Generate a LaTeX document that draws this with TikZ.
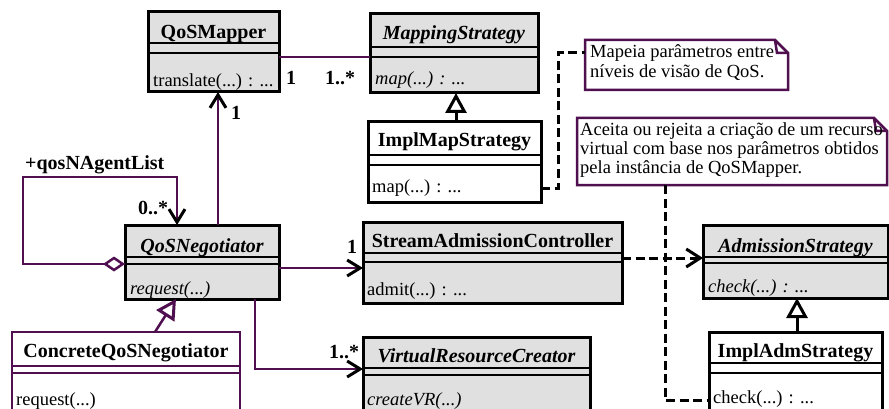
\documentclass[tikz,border=0pt]{standalone}
\usepackage{fontspec}
\setmainfont{Liberation Serif}
\usetikzlibrary{arrows.meta,calc}
\definecolor{pur}{RGB}{80,16,80}
\definecolor{clsgray}{RGB}{224,224,224}
\newcommand\umlbox[9]{%
  \node[#2, minimum width={#5-#3}, minimum height={#6-#4}] (#1) at (#3,#4) {};
  \draw[line width=2.5pt,#9] (#3,#7) -- (#5,#7) (#3,#8) -- (#5,#8);
}
\begin{document}
\begin{tikzpicture}[x=1pt,y=-1pt,
  box/.style={draw=black,line width=3pt,inner sep=0pt,outer sep=0pt,anchor=north west},
  gbox/.style={box,fill=clsgray},
  wbox/.style={box,fill=white},
  pbox/.style={box,draw=pur,line width=2.5pt,fill=white},
  ttl/.style={font=\fontsize{20}{22}\selectfont\bfseries,inner sep=0pt,anchor=base},
  ittl/.style={ttl,font=\fontsize{20}{22}\selectfont\bfseries\itshape},
  mth/.style={font=\fontsize{18.5}{20}\selectfont,inner sep=0pt,anchor=base west},
  imth/.style={mth,font=\fontsize{18.5}{20}\selectfont\itshape},
  lbl/.style={font=\fontsize{20}{22}\selectfont\bfseries,inner sep=0pt,anchor=base west},
  ntxt/.style={font=\fontsize{18.5}{20}\selectfont,inner sep=0pt,anchor=base west},
  assoc/.style={draw=pur,line width=2.5pt},
  opn/.style={-{Straight Barb[length=13pt,width=16pt,line width=3pt,color=black]}},
  inh/.style={-{Triangle[length=20pt,width=21pt,line width=3pt,fill=white]}},
  dsh/.style={draw=black,line width=3pt,dash pattern=on 9pt off 4.5pt},
  notebox/.style={draw=none,inner sep=0pt,outer sep=0pt,anchor=north west},
  noteline/.style={draw=pur,line width=2.5pt,fill=white,line join=miter}
]
\path[use as bounding box] (0,0) rectangle (889,409);
\clip (0,0) rectangle (889,409);

% ---- notes ----
\node[notebox,minimum width=203,minimum height=50] (n1) at (585,40) {};
\draw[noteline] (n1.north west) -- ($(n1.north east)+(-13,0)$) -- ($(n1.north east)+(0,13)$) -- (n1.south east) -- (n1.south west) -- cycle;
\draw[noteline,fill=none] ($(n1.north east)+(-13,0)$) -- ($(n1.north east)+(-11,13)$) -- ($(n1.north east)+(0,13)$);
\node[ntxt] (n1a) at (590,58) {Mapeia parâmetros entre};
\node[ntxt] (n1b) at (590,78) {níveis de visão de QoS.};

\node[notebox,minimum width=310,minimum height=67] (n2) at (577,118) {};
\draw[noteline] (n2.north west) -- ($(n2.north east)+(-13,0)$) -- ($(n2.north east)+(0,13)$) -- (n2.south east) -- (n2.south west) -- cycle;
\draw[noteline,fill=none] ($(n2.north east)+(-13,0)$) -- ($(n2.north east)+(-11,13)$) -- ($(n2.north east)+(0,13)$);
\node[ntxt] (n2a) at (580,136) {Aceita ou rejeita a criação de um recurso};
\node[ntxt] (n2b) at (580,155) {virtual com base nos parâmetros obtidos};
\node[ntxt] (n2c) at (580,173) {pela instância de QoSMapper.};

% ---- classes ----
\umlbox{qm}{gbox}{148}{12}{279}{92}{43}{53}{black}
\node[ttl] (qmt) at (213.5,39) {QoSMapper};
\node[mth] (qmm) at (153,87) {translate(...) : ...};

\umlbox{ms}{gbox}{370}{14}{538}{93}{47}{57}{black}
\node[ittl] (mst) at (454,40) {MappingStrategy};
\node[imth] (msm) at (375,85) {map(...) : ...};

\umlbox{ims}{wbox}{368}{122}{541}{202}{155}{165}{black}
\node[ttl] (imst) at (454.5,147) {ImplMapStrategy};
\node[mth] (imsm) at (372,193) {map(...) : ...};

\umlbox{qn}{gbox}{125}{225}{279}{299}{257}{264}{black}
\node[ittl] (qnt) at (202,252) {QoSNegotiator};
\node[imth] (qnm) at (130,294) {request(...)};

\umlbox{sac}{gbox}{363}{222}{622}{303}{253}{262}{black}
\node[ttl] (sact) at (492.5,247) {StreamAdmissionController};
\node[mth] (sacm) at (367,295) {admit(...) : ...};

\umlbox{adm}{gbox}{703}{225}{888}{298}{257}{263}{black}
\node[ittl] (admt) at (795.5,252) {AdmissionStrategy};
\node[imth] (admm) at (708,292) {check(...) : ...};

\umlbox{ias}{wbox}{709}{332}{882}{420}{363}{373}{black}
\node[ttl] (iast) at (795.5,357) {ImplAdmStrategy};
\node[mth] (iasm) at (713,403) {check(...) : ...};

\umlbox{cqn}{pbox}{12}{332}{240}{420}{366}{373}{pur}
\node[ttl] (cqnt) at (126,357) {ConcreteQoSNegotiator};
\node[mth] (cqnm) at (16,405) {request(...)};

\umlbox{vrc}{gbox}{363}{337}{590}{420}{368}{375}{black}
\node[ittl] (vrct) at (476.5,362) {VirtualResourceCreator};
\node[imth] (vrcm) at (367,405) {createVR(...)};

% ---- helper coordinates ----
\coordinate (y57) at (0,57);
\coordinate (x218) at (218,0);
\coordinate (y264) at (0,264);
\coordinate (L1) at (23,177);
\coordinate (x177) at (177,0);
\coordinate (y268) at (0,268);
\coordinate (x255) at (255,0);
\coordinate (y369) at (0,369);
\coordinate (x155) at (155,0);
\coordinate (x176) at (176,0);
\coordinate (x456) at (456,0);
\coordinate (x797) at (797,0);
\coordinate (y258) at (0,258);
\coordinate (y188) at (0,188);
\coordinate (D1) at (558,53);
\coordinate (x665) at (665,0);
\coordinate (y400) at (0,400);

% ---- connectors ----
\draw[assoc] (qm.east |- y57) -- (ms.west |- y57);
\draw[assoc,opn] (qn.north -| x218) -- (qm.south -| x218);
\draw[assoc,opn] (qn.west |- y264) -| (L1) -| (qn.north -| x177);
\draw[assoc,{Diamond[length=22pt,width=15pt,fill=white,line width=2.5pt]}-] (qn.west |- y264) -- ++(-24,0);
\draw[assoc,opn] (qn.east |- y268) -- (sac.west |- y268);
\draw[assoc,opn] (qn.south -| x255) |- (vrc.west |- y369);
\draw[assoc,inh] (cqn.north -| x155) -- (qn.south -| x176);
\draw[line width=3pt,inh] (ims.north -| x456) -- (ms.south -| x456);
\draw[line width=3pt,inh] (ias.north -| x797) -- (adm.south -| x797);
\draw[dsh,-{Straight Barb[length=14pt,width=18pt,line width=3pt]}] (sac.east |- y258) -- (adm.west |- y258);
\draw[dsh] (ims.east |- y188) -| (D1) -- (n1.west |- D1);
\draw[dsh] (n2.south -| x665) |- (ias.west |- y400);

% ---- labels ----
\node[lbl] (l1) at (286,85) {1};
\node[lbl] (l2) at (325,85) {1..*};
\node[lbl] (l3) at (231,120) {1};
\node[lbl] (l4) at (25,170) {+qosNAgentList};
\node[lbl] (l5) at (138,214) {0..*};
\node[lbl] (l6) at (347,253) {1};
\node[lbl] (l7) at (329,358) {1..*};
\end{tikzpicture}
\end{document}
